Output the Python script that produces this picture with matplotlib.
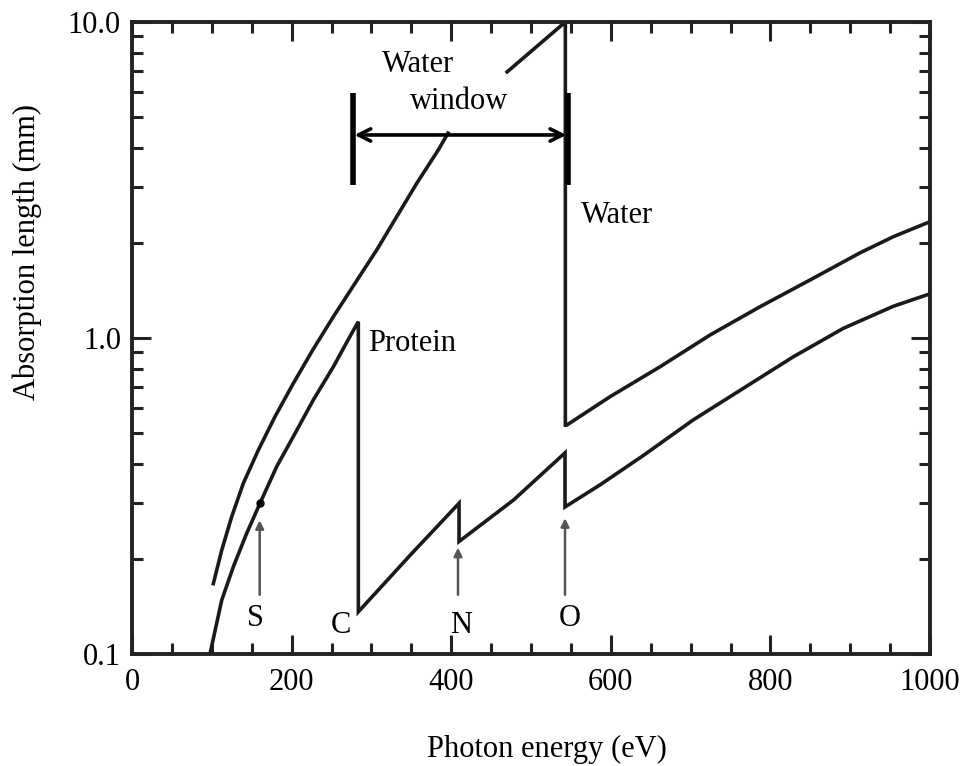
import matplotlib
matplotlib.use('Agg')
import matplotlib.pyplot as plt
from matplotlib.ticker import FixedLocator, LogLocator, NullFormatter, MultipleLocator
import numpy as np

# water absorption length (upper curve), gap where the "window" text sits
water_e = [101.9, 112.4, 124.9, 139.5, 158.3, 179.2, 202.2, 226.4, 252.3, 279.4, 306.6, 331.7, 356.8, 383.8, 396,
           np.nan, 470, 543, 543, 544.7, 599, 661.7, 724.3, 787, 849.6, 912.3, 954, 1000]
water_l = [0.167, 0.213, 0.272, 0.347, 0.442, 0.564, 0.719, 0.916, 1.168, 1.489, 1.899, 2.421, 3.087, 3.936, 4.45,
           np.nan, 6.95, 10.0, 0.53, 0.530, 0.652, 0.811, 1.022, 1.256, 1.526, 1.860, 2.092, 2.334]

# protein absorption length (lower curve) with C, N, O edges
prot_e = [97.7, 112.4, 127, 143.7, 160.4, 181.3, 204.3, 227.2, 252.3, 275.3, 283.6, 283.6, 349, 409.8, 409.8,
          478, 542.6, 542.6, 586.5, 640.8, 703, 766, 829, 891.4, 954, 1000]
prot_l = [0.1, 0.148, 0.189, 0.241, 0.300, 0.392, 0.499, 0.637, 0.811, 1.035, 1.126, 0.136, 0.206, 0.300, 0.227,
          0.307, 0.433, 0.292, 0.343, 0.425, 0.550, 0.693, 0.873, 1.073, 1.26, 1.38]

# edge markers: label, arrow x, arrow tip, label position
edge_names = ['S', 'C', 'N', 'O']
edge_label_x = [155, 262, 412, 549]
edge_label_y = [0.130, 0.1235, 0.1235, 0.130]
arrow_x = [160, 408.5, 542.6]
arrow_tip = [0.265, 0.217, 0.269]
arrow_base = 0.154

# water window bracket
win_lo, win_hi = 277, 546
win_arrow_y = 4.39
win_bar = [3.05, 5.96]

plt.rcParams['font.family'] = ['Liberation Serif', 'DejaVu Serif']
plt.rcParams['font.size'] = 22

fig = plt.figure(figsize=(9.7, 7.66), dpi=100)
ax = fig.add_axes([0.1361, 0.1462, 0.8227, 0.8251])

ax.plot(water_e, water_l, color='#1a1a1a', lw=2.6, solid_joinstyle='miter')
ax.plot(prot_e, prot_l, color='#1a1a1a', lw=2.6, solid_joinstyle='miter')
ax.plot([160.4], [0.300], 'o', color='black', ms=5)

ax.set_yscale('log')
ax.set_xlim(0, 1000)
ax.set_ylim(0.1, 10)

ax.xaxis.set_major_locator(MultipleLocator(200))
ax.xaxis.set_minor_locator(MultipleLocator(50))
ax.yaxis.set_major_locator(FixedLocator([0.1, 1.0, 10.0]))
ax.yaxis.set_minor_locator(LogLocator(base=10, subs=np.arange(2, 10)))
ax.yaxis.set_minor_formatter(NullFormatter())
ax.set_yticklabels(['0.1', '1.0', '10.0'])

ax.tick_params(which='both', direction='in', top=True, right=True, width=2.2, color='#222222')
ax.tick_params(which='major', length=14)
ax.tick_params(which='minor', length=8)
ax.tick_params(axis='x', pad=10)
ax.tick_params(axis='y', pad=8)
for s in ax.spines.values():
    s.set_linewidth(2.8)
    s.set_color('#222222')

ax.set_xlabel('Photon energy (eV)')
ax.set_ylabel('Absorption length (mm)')
ax.xaxis.set_label_coords(0.52, -0.128)
ax.yaxis.set_label_coords(-0.113, 0.636)

# element edge arrows and labels
for x, tip in zip(arrow_x, arrow_tip):
    ax.annotate('', xy=(x, tip), xytext=(x, arrow_base),
                arrowprops=dict(arrowstyle='-|>', color='#555555', lw=1.8,
                                mutation_scale=12, shrinkA=0, shrinkB=0))
for name, x, y in zip(edge_names, edge_label_x, edge_label_y):
    ax.text(x, y, name, ha='center', va='center')

ax.text(296, 0.964, 'Protein', ha='left', va='center')
ax.text(563, 2.45, 'Water', ha='left', va='center')
ax.text(313, 7.31, 'Water', ha='left', va='center')
ax.text(348, 5.6, 'window', ha='left', va='center')

# water window bracket
ax.plot([win_lo, win_lo], win_bar, color='black', lw=4, solid_capstyle='butt')
ax.plot([win_hi, win_hi], win_bar, color='black', lw=4, solid_capstyle='butt')
ax.annotate('', xy=(win_lo, win_arrow_y), xytext=(win_hi, win_arrow_y),
            arrowprops=dict(arrowstyle='<->', color='black', lw=2.6,
                            mutation_scale=22, shrinkA=1, shrinkB=1))

fig.savefig('out.png', dpi=100)
